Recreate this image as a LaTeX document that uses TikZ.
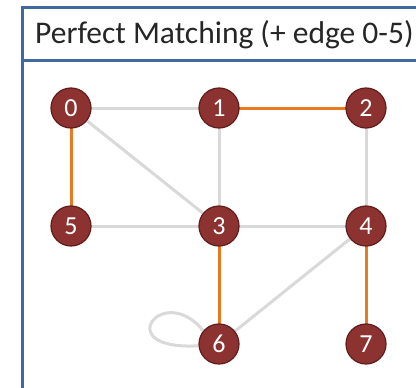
\documentclass[tikz,border=0pt]{standalone}
\usepackage{fontspec}
\setmainfont{Carlito}
\usetikzlibrary{backgrounds}
\definecolor{framebl}{RGB}{62,106,158}
\definecolor{vfill}{RGB}{140,50,48}
\definecolor{vline}{RGB}{96,28,28}
\definecolor{plain}{RGB}{217,217,217}
\definecolor{matched}{RGB}{234,122,34}
\tikzset{
  vertex/.style={circle, fill=vfill, draw=vline, line width=1.2pt,
    minimum size=40pt, inner sep=0pt, text=white, font=\fontsize{26}{26}\selectfont},
  plainedge/.style={draw=plain, line width=3pt},
  matchedge/.style={draw=matched, line width=3pt},
  frameline/.style={draw=framebl, line width=3pt},
}
\begin{document}
\begin{tikzpicture}[x=1pt,y=-1pt]
\useasboundingbox (0,0) rectangle (416,388);

% panel frame and header
\coordinate (ftl) at (22.5,7);
\coordinate (fbl) at (22.5,390);
\coordinate (ftr) at (418,7);
\coordinate (hl) at (22.5,60.5);
\coordinate (hr) at (418,60.5);
\draw[frameline] (fbl) -- (ftl) -- (ftr);
\draw[frameline] (hl) -- (hr);
\node[anchor=base west, inner sep=0pt, font=\fontsize{31.5}{31.5}\selectfont, text=black!85] (title) at (35,43) {Perfect Matching (+ edge 0-5)};

% vertices
\node[vertex] (n0) at (71,108) {0};
\node[vertex] (n1) at (219,108) {1};
\node[vertex] (n2) at (366,108) {2};
\node[vertex] (n5) at (71,226) {5};
\node[vertex] (n3) at (219,226) {3};
\node[vertex] (n4) at (366,226) {4};
\node[vertex] (n6) at (219,344) {6};
\node[vertex] (n7) at (366,344) {7};

% edges behind the vertices
\begin{scope}[on background layer]
  \fill[white] (0,0) rectangle (416,388);
  \draw[plainedge] (n0.center) -- (n1.center);
  \draw[plainedge] (n0.center) -- (n3.center);
  \draw[plainedge] (n1.center) -- (n3.center);
  \draw[plainedge] (n2.center) -- (n4.center);
  \draw[plainedge] (n5.center) -- (n3.center);
  \draw[plainedge] (n3.center) -- (n4.center);
  \draw[plainedge] (n4.center) -- (n6.center);
  \draw[plainedge] (n6.140) .. controls +(-40,-50) and +(-90,5) .. (n6.185);
  \draw[matchedge] (n0.center) -- (n5.center);
  \draw[matchedge] (n1.center) -- (n2.center);
  \draw[matchedge] (n3.center) -- (n6.center);
  \draw[matchedge] (n4.center) -- (n7.center);
\end{scope}
\end{tikzpicture}
\end{document}
